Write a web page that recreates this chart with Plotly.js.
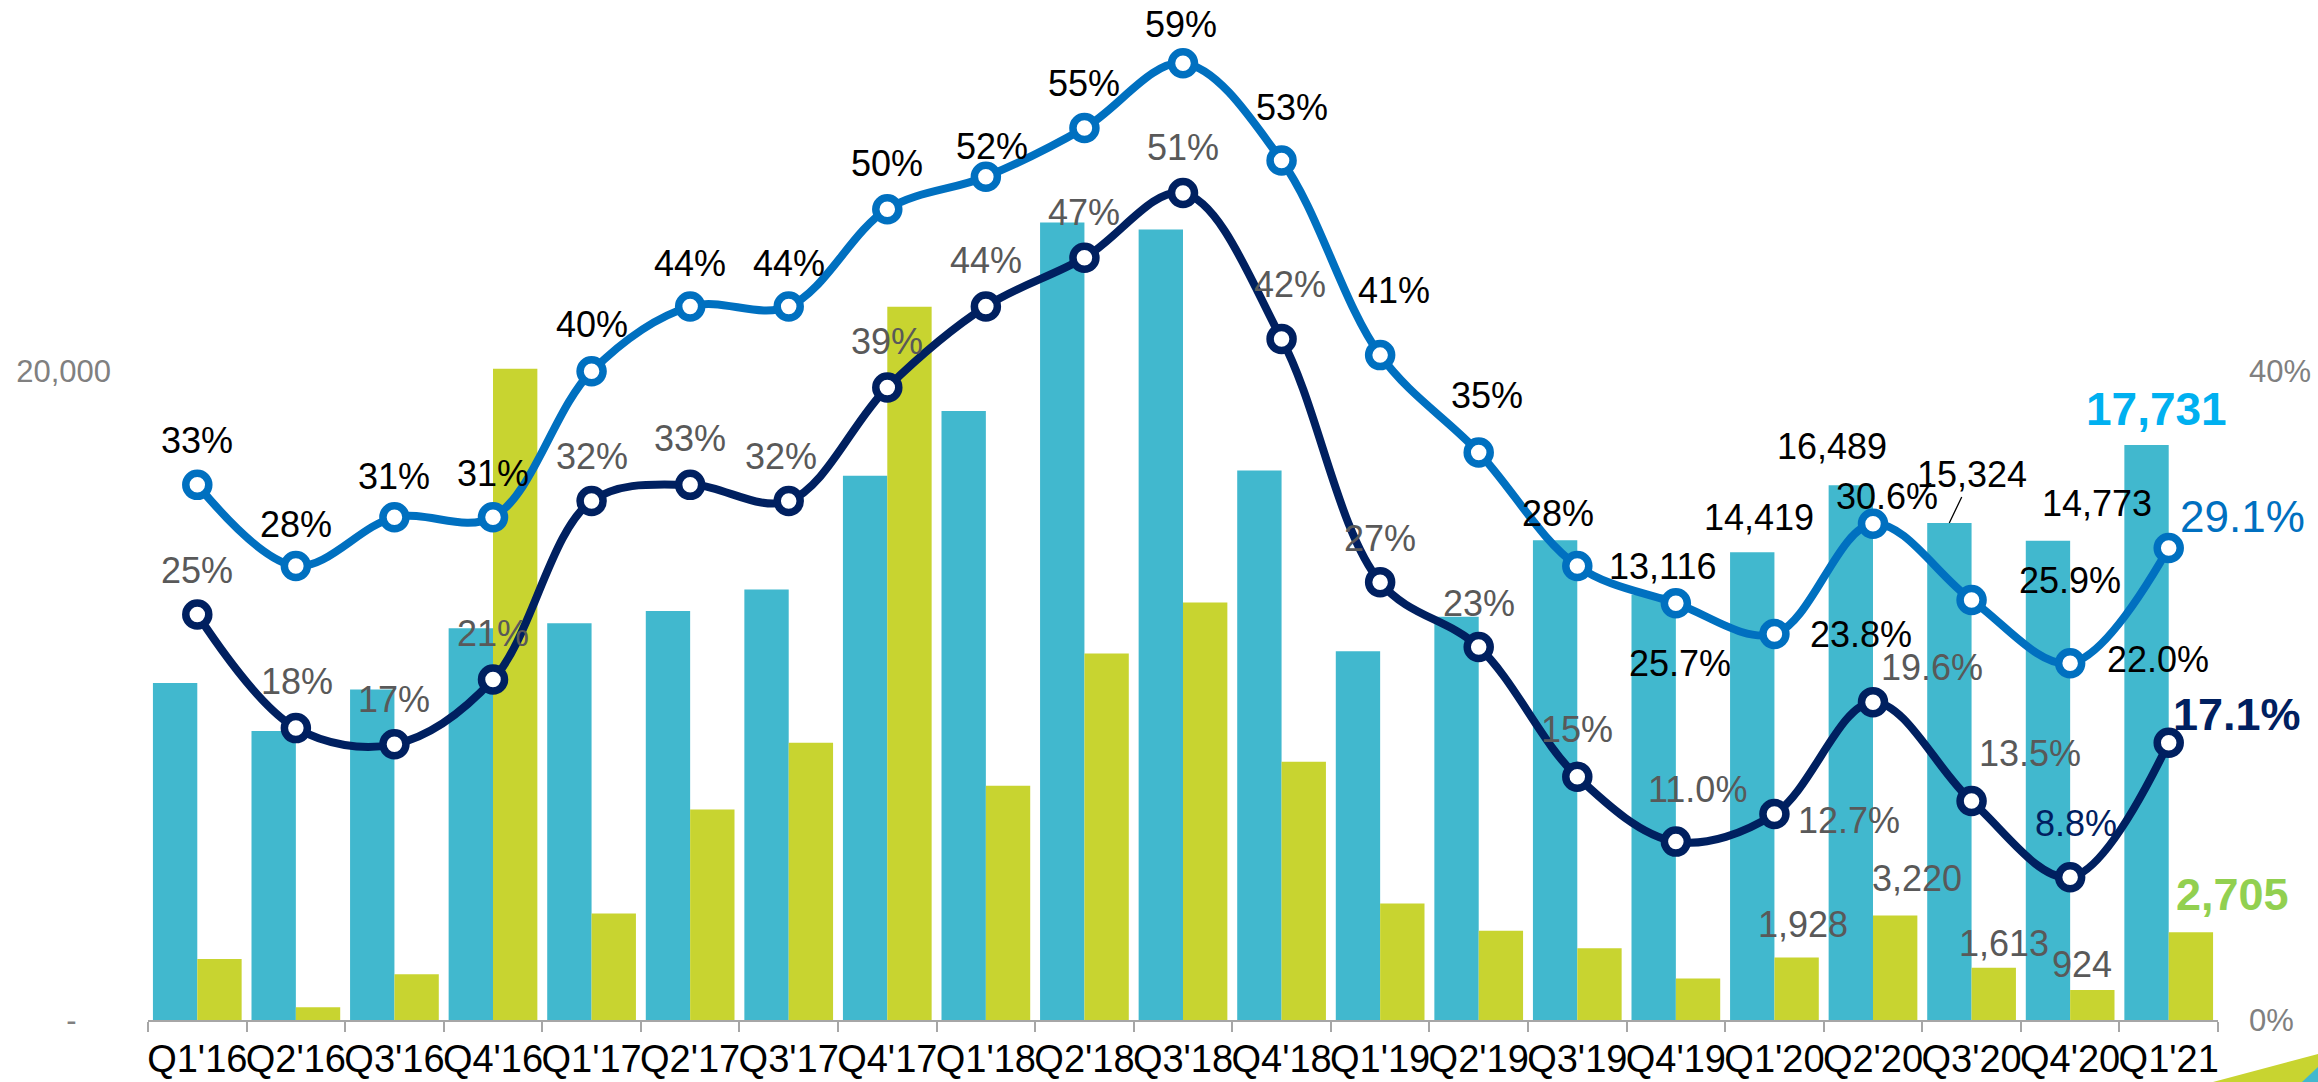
<!DOCTYPE html>
<html>
<head>
<meta charset="utf-8">
<script src="https://cdn.plot.ly/plotly-3.0.1.min.js"></script>
<style>
  html, body { margin: 0; padding: 0; background: #fff; }
  #plot { width: 2318px; height: 1082px; }
</style>
</head>
<body>
<div id="plot"></div>
<script>
// quarters
var quarters = ["Q1'16", "Q2'16", "Q3'16", "Q4'16", "Q1'17", "Q2'17", "Q3'17", "Q4'17",
                "Q1'18", "Q2'18", "Q3'18", "Q4'18", "Q1'19", "Q2'19", "Q3'19", "Q4'19",
                "Q1'20", "Q2'20", "Q3'20", "Q4'20", "Q1'21"];

// bars (left axis)
var tealBars = [10390, 8910, 10190, 12080, 12230, 12610, 13270, 16780, 18780, 24590, 24370,
                16940, 11370, 12430, 14790, 13116, 14419, 16489, 15324, 14773, 17731];
var greenBars = [1880, 390, 1410, 20080, 3280, 6490, 8550, 21990, 7220, 11300, 12870,
                 7960, 3590, 2750, 2210, 1280, 1928, 3220, 1613, 924, 2705];

// lines (right axis, %)
var lightLine = [33, 28, 31, 31, 40, 44, 44, 50, 52, 55, 59, 53, 41, 35, 28,
                 25.7, 23.8, 30.6, 25.9, 22.0, 29.1];
var darkLine = [25, 18, 17, 21, 32, 33, 32, 39, 44, 47, 51, 42, 27, 23, 15,
                11.0, 12.7, 19.6, 13.5, 8.8, 17.1];

// axis ticks
var leftTickVals = [0, 20000];
var leftTickText = ["-\u00a0\u00a0\u00a0\u00a0", "20,000"];
var rightTickVals = [0, 40];
var rightTickText = ["0%", "40%"];

// label offsets in px (dx right, dy up) - placement only
var lightOff = [[0,44],[0,41],[0,41],[0,44],[0,47],[0,43],[0,43],[0,46],[6,30],[0,45],[-2,39],
                [10,53],[14,65],[8,57],[-19,52],[4,-60],[87,0],[14,27],[98,19],[88,4],[74,32]];
var darkOff = [[0,44],[1,47],[0,45],[0,46],[0,45],[0,46],[-8,45],[0,46],[0,46],[0,45],[0,45],
               [8,54],[0,44],[0,44],[0,47],[22,52],[75,-6],[59,35],[58,48],[6,54],[68,28]];
var tealOff = {15: [-13,28], 16: [-15,35], 17: [-41,39], 18: [1,48], 19: [27,37], 20: [-12,36]};
var greenOff = {16: [29,33], 17: [44,37], 18: [32,24], 19: [12,26], 20: [64,38]};

var FONT = 'Liberation Sans, Arial, sans-serif';
var TEAL = '#41B8CE', GREEN = '#C8D430', BLUE = '#0070C0', NAVY = '#002060';
var n = quarters.length;
var last = n - 1;

function pct(v, i) { return (i >= 15 ? v.toFixed(1) : Math.round(v)) + '%'; }
function num(v) { return v.toLocaleString('en-US'); }

var data = [
  {type: 'bar', x: quarters, y: tealBars, marker: {color: TEAL}, hoverinfo: 'skip'},
  {type: 'bar', x: quarters, y: greenBars, marker: {color: GREEN}, hoverinfo: 'skip'},
  {type: 'scatter', mode: 'lines+markers', x: quarters, y: lightLine, yaxis: 'y2',
   line: {color: BLUE, width: 8, shape: 'spline', smoothing: 1},
   marker: {size: 23, color: '#fff', line: {color: BLUE, width: 7.5}}, hoverinfo: 'skip'},
  {type: 'scatter', mode: 'lines+markers', x: quarters, y: darkLine, yaxis: 'y2',
   line: {color: NAVY, width: 8, shape: 'spline', smoothing: 1},
   marker: {size: 23, color: '#fff', line: {color: NAVY, width: 7.5}}, hoverinfo: 'skip'}
];

var annotations = [];
function lab(x, y, yref, text, off, font) {
  annotations.push({x: x, y: y, xref: 'x', yref: yref, text: text, showarrow: false,
    xshift: off[0], yshift: off[1], xanchor: 'center', yanchor: 'middle', font: font});
}
var BARSHIFT = 22.3;

for (var i = 0; i < n; i++) {
  var fl = {family: FONT, size: 36, color: '#000'};
  if (i === last) fl = {family: FONT, size: 44, color: BLUE};
  lab(quarters[i], lightLine[i], 'y2', pct(lightLine[i], i), lightOff[i], fl);

  var fd = {family: FONT, size: 36, color: '#595959'};
  if (i === 19) fd = {family: FONT, size: 36, color: NAVY};
  if (i === last) fd = {family: FONT, size: 45, color: NAVY};
  var dt = pct(darkLine[i], i);
  if (i === last) dt = '<b>' + dt + '</b>';
  lab(quarters[i], darkLine[i], 'y2', dt, darkOff[i], fd);

  if (tealOff[i]) {
    var ft = {family: FONT, size: 36, color: '#000'};
    var tt = num(tealBars[i]);
    if (i === last) { ft = {family: FONT, size: 46, color: '#00B0F0'}; tt = '<b>' + tt + '</b>'; }
    if (i === 18) {
      // label with leader line
      annotations.push({x: quarters[i], y: tealBars[i], xref: 'x', yref: 'y', text: tt,
        xshift: -BARSHIFT, showarrow: true, arrowhead: 0, arrowwidth: 1.3, arrowcolor: '#000',
        ax: 23, ay: -48, standoff: 0, font: ft});
    } else {
      lab(quarters[i], tealBars[i], 'y', tt, tealOff[i], ft);
    }
  }
  if (greenOff[i]) {
    var fg = {family: FONT, size: 36, color: '#595959'};
    var gt = num(greenBars[i]);
    if (i === last) { fg = {family: FONT, size: 45, color: '#92D050'}; gt = '<b>' + gt + '</b>'; }
    lab(quarters[i], greenBars[i], 'y', gt, greenOff[i], fg);
  }
}

// decorative corner, pixel -> paper helpers
var L = 148, R = 100, T = 47, B = 62, W = 2318, H = 1082;
function px(x) { return (x - L) / (W - L - R); }
function py(y) { return (H - B - y) / (H - T - B); }
var shapes = [
  {type: 'path', xref: 'paper', yref: 'paper', line: {width: 0}, fillcolor: GREEN,
   path: 'M' + px(2213) + ',' + py(1082) + ' L' + px(2318) + ',' + py(1054) + ' L' + px(2318) + ',' + py(1082) + ' Z'},
  {type: 'path', xref: 'paper', yref: 'paper', line: {width: 0}, fillcolor: TEAL,
   path: 'M' + px(2302) + ',' + py(1082) + ' L' + px(2318) + ',' + py(1067) + ' L' + px(2318) + ',' + py(1082) + ' Z'}
];

var layout = {
  width: W, height: H,
  margin: {l: L, r: R, t: T, b: B, autoexpand: false},
  paper_bgcolor: '#fff', plot_bgcolor: '#fff',
  showlegend: false,
  barmode: 'group', bargap: 0.1, bargroupgap: 0,
  font: {family: FONT},
  xaxis: {
    type: 'category', range: [-0.5, n - 0.5], autorange: false,
    showgrid: false, zeroline: false, automargin: false,
    showline: true, linecolor: '#A6A6A6', linewidth: 2, tickangle: 0,
    ticks: 'outside', tickson: 'boundaries', ticklen: 10, tickcolor: '#A6A6A6', tickwidth: 2,
    ticklabelstandoff: 4,
    tickfont: {family: FONT, size: 38, color: '#000'}
  },
  yaxis: {
    range: [0, 30000], autorange: false, showgrid: false, zeroline: false, showline: false, ticks: '',
    automargin: false,
    tickvals: leftTickVals, ticktext: leftTickText, ticklabelstandoff: 36,
    tickfont: {family: FONT, size: 31, color: '#808080'}
  },
  yaxis2: {
    range: [0, 60], autorange: false, overlaying: 'y', side: 'right', showgrid: false, zeroline: false,
    showline: false, ticks: '', automargin: false,
    tickvals: rightTickVals, ticktext: rightTickText,
    ticklabelstandoff: 30, tickfont: {family: FONT, size: 31, color: '#808080'}
  },
  annotations: annotations,
  shapes: shapes
};

Plotly.newPlot('plot', data, layout, {staticPlot: true});
</script>
</body>
</html>
